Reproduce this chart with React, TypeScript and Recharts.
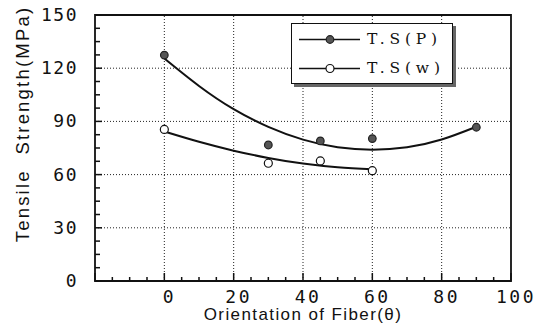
import React from "react";
import {
  ComposedChart,
  XAxis,
  YAxis,
  Line,
  Scatter,
  ReferenceLine,
  ReferenceArea,
  Legend,
  Label,
} from "recharts";

// Measured points
const pointsP = [
  { x: 0, y: 127.4 },
  { x: 30, y: 76.7 },
  { x: 45, y: 79 },
  { x: 60, y: 80.3 },
  { x: 90, y: 86.7 },
];
const pointsW = [
  { x: 0, y: 85.5 },
  { x: 30, y: 66.4 },
  { x: 45, y: 67.7 },
  { x: 60, y: 62.2 },
];
// Fitted curves
const fitP = [
  { x: 0, y: 125.5 },
  { x: 10, y: 110 },
  { x: 20, y: 96.9 },
  { x: 30, y: 86.9 },
  { x: 40, y: 79.7 },
  { x: 50, y: 75.4 },
  { x: 60, y: 74 },
  { x: 70, y: 75.4 },
  { x: 80, y: 79.8 },
  { x: 90, y: 87 },
];
const fitW = [
  { x: 0, y: 84.3 },
  { x: 10, y: 78.5 },
  { x: 20, y: 73.5 },
  { x: 30, y: 69.4 },
  { x: 40, y: 66.2 },
  { x: 50, y: 64.1 },
  { x: 60, y: 63 },
];

const seriesNames = ["T.S(P)", "T.S(w)"];
const xTicks = [-20, -15, -10, -5, 0, 5, 10, 15, 20, 25, 30, 35, 40, 45, 50, 55, 60, 65, 70, 75, 80, 85, 90, 95, 100];
const yTicks = [0, 7.5, 15, 22.5, 30, 37.5, 45, 52.5, 60, 67.5, 75, 82.5, 90, 97.5, 105, 112.5, 120, 127.5, 135, 142.5, 150];
const xGrid = [0, 20, 40, 60, 80];
const yGrid = [30, 60, 90, 120];

const tickFont = "'DejaVu Sans Mono', monospace";
const titleFont = "'Liberation Sans', Arial, sans-serif";

const XTick = (props: any) => {
  const { x, y, payload } = props;
  const v = payload.value;
  const major = v % 20 === 0;
  return (
    <g>
      <line x1={x} y1={y} x2={x} y2={y - (major ? 8 : 4)} stroke="#111" strokeWidth={1.5} />
      {major && v >= 0 && (
        <text
          x={x + 5}
          y={y + 22}
          textAnchor="middle"
          fontFamily={tickFont}
          fontSize={18}
          letterSpacing={2.5}
          fill="#111"
        >
          {v}
        </text>
      )}
    </g>
  );
};

const YTick = (props: any) => {
  const { x, y, payload } = props;
  const v = payload.value;
  const major = v % 30 === 0;
  return (
    <g>
      <line x1={x} y1={y} x2={x + (major ? 7 : 5)} y2={y} stroke="#111" strokeWidth={1.5} />
      {major && (
        <text
          x={x - 17}
          y={y + 6}
          textAnchor="end"
          fontFamily={tickFont}
          fontSize={18}
          letterSpacing={1.5}
          fill="#111"
        >
          {v}
        </text>
      )}
    </g>
  );
};

const PDot = (props: any) => (
  <circle cx={props.cx} cy={props.cy} r={3.8} fill="#555" stroke="#222" strokeWidth={1.2} />
);
const WDot = (props: any) => (
  <circle cx={props.cx} cy={props.cy} r={4} fill="#fff" stroke="#111" strokeWidth={1.2} />
);

const LegendContent = () => (
  <div style={{ width: "100%", height: "100%" }}>
    {seriesNames.map((name, i) => (
      <div key={name} style={{ position: "relative", height: 29, marginTop: i === 0 ? 1 : 0 }}>
        <svg width={70} height={29} style={{ position: "absolute", left: 0, top: 0 }}>
          <line x1={7} y1={14.5} x2={68} y2={14.5} stroke="#111" strokeWidth={1.5} />
          {i === 0 ? (
            <circle cx={38} cy={14.5} r={3.8} fill="#555" stroke="#222" strokeWidth={1.2} />
          ) : (
            <circle cx={38} cy={14.5} r={4} fill="#fff" stroke="#111" strokeWidth={1.2} />
          )}
        </svg>
        <span
          style={{
            position: "absolute",
            left: 75,
            top: 4,
            fontFamily: "'DejaVu Serif', serif",
            fontSize: 15.5,
            letterSpacing: 4.8,
            lineHeight: "20px",
            color: "#111",
            whiteSpace: "nowrap",
          }}
        >
          {name}
        </span>
      </div>
    ))}
  </div>
);

export default function App() {
  return (
    <div style={{ position: "absolute", left: 0, top: 0, background: "#fff" }}>
      <ComposedChart width={544} height={335} margin={{ top: 15, right: 33, bottom: 0, left: 0 }}>
        <XAxis
          type="number"
          dataKey="x"
          domain={[-20, 100]}
          ticks={xTicks}
          interval={0}
          allowDataOverflow
          axisLine={false}
          tickLine={false}
          tickSize={0}
          tickMargin={0}
          height={54}
          tick={XTick}
        >
          <Label
            value="Orientation of Fiber(θ)"
            position="insideBottom"
            offset={15}
            style={{ fontFamily: titleFont, fontSize: 17, letterSpacing: 1.4, fill: "#111" }}
          />
        </XAxis>
        <YAxis
          type="number"
          dataKey="y"
          domain={[0, 150]}
          ticks={yTicks}
          interval={0}
          allowDataOverflow
          axisLine={false}
          tickLine={false}
          tickSize={0}
          tickMargin={0}
          width={95}
          tick={YTick}
        >
          <Label
            content={(p: any) => {
              const vb = p.viewBox;
              const cx = vb.x + 22;
              const cy = vb.y + vb.height / 2 - 24;
              return (
                <text
                  x={cx}
                  y={cy}
                  transform={`rotate(-90, ${cx}, ${cy})`}
                  textAnchor="middle"
                  dominantBaseline="central"
                  fontFamily={titleFont}
                  fontSize={18.5}
                  letterSpacing={2.2}
                  fill="#111"
                  style={{ whiteSpace: "pre" }}
                >
                  Tensile  Strength(MPa)
                </text>
              );
            }}
          />
        </YAxis>
        {xGrid.map((v) => (
          <ReferenceLine key={"gx" + v} x={v} stroke="#222" strokeWidth={1} strokeDasharray="1 2" />
        ))}
        {yGrid.map((v) => (
          <ReferenceLine key={"gy" + v} y={v} stroke="#222" strokeWidth={1} strokeDasharray="1 2" />
        ))}
        <ReferenceArea x1={-20} x2={100} y1={0} y2={150} fill="none" stroke="#111" strokeWidth={1.8} />
        <Line
          data={fitP}
          dataKey="y"
          type="natural"
          stroke="#111"
          strokeWidth={2}
          dot={false}
          activeDot={false}
          isAnimationActive={false}
          legendType="none"
        />
        <Line
          data={fitW}
          dataKey="y"
          type="natural"
          stroke="#111"
          strokeWidth={2}
          dot={false}
          activeDot={false}
          isAnimationActive={false}
          legendType="none"
        />
        <Scatter name={seriesNames[0]} data={pointsP} dataKey="y" shape={PDot} isAnimationActive={false} />
        <Scatter name={seriesNames[1]} data={pointsW} dataKey="y" shape={WDot} isAnimationActive={false} />
        <Legend
          layout="horizontal"
          verticalAlign="middle"
          align="center"
          content={LegendContent}
          wrapperStyle={{
            position: "absolute",
            left: 291,
            top: 23,
            width: 162,
            height: 61,
            border: "1.8px solid #111",
            boxShadow: "3px 3px 0 #666",
            background: "#fff",
            boxSizing: "border-box",
          }}
        />
      </ComposedChart>
    </div>
  );
}
